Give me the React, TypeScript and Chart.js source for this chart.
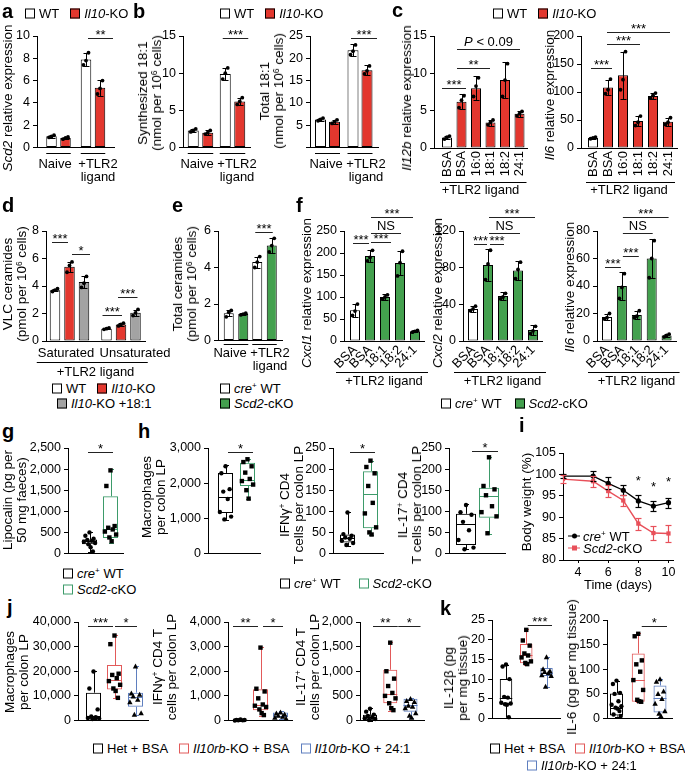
import React, { useEffect, useRef } from 'react';
import { Chart, registerables } from 'chart.js';

Chart.register(...registerables);

const FONT = "'Liberation Sans', Arial, Helvetica, sans-serif";
Chart.defaults.font.family = FONT;
Chart.defaults.color = '#000';

// ================= DATA =================
const tlrGroups = ['Naive', '+TLR2 ligand'];

// a  Scd2 relative expression
const aWT = [1.0, 7.9];
const aWTsd = [0.12, 0.6];
const aWTpts = [[0.9, 1.0, 1.1], [7.4, 7.8, 8.5]];
const aKO = [0.85, 5.35];
const aKOsd = [0.1, 0.7];
const aKOpts = [[0.75, 0.85, 0.95], [4.8, 5.3, 6.0]];

// b  synthesized / total 18:1
const b1WT = [2.3, 9.9];
const b1WTsd = [0.25, 0.85];
const b1WTpts = [[2.1, 2.3, 2.5], [9.2, 10.0, 10.7]];
const b1KO = [2.0, 6.2];
const b1KOsd = [0.3, 0.5];
const b1KOpts = [[1.8, 2.0, 2.3], [5.8, 6.2, 6.7]];
const b2WT = [6.3, 21.8];
const b2WTsd = [0.3, 1.3];
const b2WTpts = [[6.0, 6.3, 6.6], [20.8, 21.6, 23.0]];
const b2KO = [5.8, 17.3];
const b2KOsd = [0.45, 1.1];
const b2KOpts = [[5.4, 5.8, 6.2], [16.5, 17.2, 18.3]];

// c  Il12b / Il6
const cLabels = ['BSA', 'BSA', '16:0', '18:1', '18:2', '24:1'];
const c1Vals = [1.4, 6.2, 8.0, 3.4, 9.1, 4.6];
const c1Sd = [0.25, 1.0, 1.6, 0.4, 2.4, 0.4];
const c1Pts = [[1.2, 1.45, 1.6], [5.4, 6.4, 7.0], [6.9, 8.3, 9.4], [3.1, 3.45, 3.75], [6.9, 9.1, 11.3], [4.3, 4.6, 4.9]];
const c2Vals = [18, 108, 130, 48, 93, 47];
const c2Sd = [1.5, 14, 42, 9, 5, 7];
const c2Pts = [[16.5, 18, 19.5], [97, 104, 123], [104, 122, 172], [40, 46, 57], [89, 94, 98], [42, 46, 54]];

// d  VLC ceramides
const dGroups = ['Saturated', 'Unsaturated'];
const dWT = [3.7, 0.9];
const dWTsd = [0.08, 0.06];
const dWTpts = [[3.6, 3.7, 3.8], [0.85, 0.9, 0.95]];
const dKO = [5.4, 1.2];
const dKOsd = [0.35, 0.08];
const dKOpts = [[5.0, 5.5, 5.75], [1.1, 1.2, 1.3]];
const dOA = [4.3, 2.05];
const dOAsd = [0.45, 0.22];
const dOApts = [[3.9, 4.2, 4.7], [1.85, 2.05, 2.3]];

// e  total ceramides
const eWT = [1.5, 4.3];
const eWTsd = [0.18, 0.3];
const eWTpts = [[1.3, 1.55, 1.65], [4.0, 4.3, 4.6]];
const eKO = [1.45, 5.2];
const eKOsd = [0.08, 0.4];
const eKOpts = [[1.4, 1.45, 1.5], [4.85, 5.2, 5.6]];

// f  Cxcl1 / Cxcl2 / Il6
const fLabels = ['BSA', 'BSA', '18:1', '18:2', '24:1'];
const f1Vals = [70, 193, 100, 177, 22];
const f1Sd = [15, 14, 6, 28, 2];
const f1Pts = [[58, 68, 84], [182, 190, 206], [95, 100, 105], [148, 178, 204], [20, 22, 24]];
const f2Vals = [35, 83, 49, 77, 12];
const f2Sd = [3, 17, 4, 10, 5];
const f2Pts = [[33, 35, 38], [67, 84, 99], [46, 48, 52], [68, 78, 86], [8, 11, 16]];
const f3Vals = [17.5, 40, 19, 60, 4];
const f3Sd = [2.5, 10, 3, 14, 1];
const f3Pts = [[16, 17, 20], [31, 39, 49], [17, 18, 22], [46, 60, 73], [3, 4, 5]];

// g, h  box plots: [min, q1, median, q3, max]
const ghLabels = ['cre+ WT', 'Scd2-cKO'];
const gBoxes = [[30, 220, 290, 334, 507], [257, 370, 584, 1356, 2000]];
const gPts = [[500, 420, 350, 320, 300, 280, 250, 220, 150, 50], [1970, 1600, 650, 610, 570, 520, 450, 380, 290]];
const h1Boxes = [[960, 1150, 1600, 2290, 2520], [1550, 1920, 2100, 2580, 2700]];
const h1Pts = [[2480, 2280, 1830, 1760, 1550, 1180, 1050, 970], [2680, 2600, 2480, 2300, 2120, 2060, 1960, 1800, 1560]];
const h2Boxes = [[18, 26, 37, 45, 98], [43, 60, 141, 195, 220]];
const h2Pts = [[97, 46, 42, 38, 35, 30, 25, 20], [220, 205, 190, 160, 120, 95, 62, 50, 45]];
const h3Boxes = [[10, 20, 71, 94, 117], [46, 85, 136, 156, 229]];
const h3Pts = [[115, 98, 92, 75, 55, 32, 14, 10], [228, 160, 152, 138, 112, 98, 88, 48]];

// i  body weight
const iDays = [3, 5, 6, 7, 8, 9, 10];
const iWT = [99.6, 99.6, 97.9, 96.3, 93.8, 92.6, 93.4];
const iWTsd = [0.5, 1.1, 1.4, 1.2, 1.4, 1.1, 1.2];
const iKO = [98.9, 98.4, 96.1, 93.9, 88.5, 86.3, 86.2];
const iKOsd = [0.9, 1.3, 1.4, 1.3, 1.4, 1.6, 2.0];
const iTicks = [4, 6, 8, 10];
const iStarDays = [8, 9, 10];
const iStarY = [97.6, 96.2, 97.4];

// j, k  box plots: [min, q1, median, q3, max]
const jkLabels = ['Het + BSA', 'Il10rb-KO + BSA', 'Il10rb-KO + 24:1'];
const j1Boxes = [[500, 700, 1700, 11300, 19900], [9000, 12600, 16500, 22500, 34700], [2300, 5600, 9500, 11300, 22000]];
const j1Pts = [[19900, 13000, 4500, 1600, 1300, 1000, 800, 600], [34500, 31000, 19000, 18500, 17200, 16000, 14500, 13000, 12000, 9200], [22000, 11000, 10500, 9800, 8500, 7500, 3000, 2400]];
const j2Boxes = [[0, 5, 15, 30, 40], [200, 420, 620, 1270, 2980], [60, 130, 200, 320, 380]];
const j2Pts = [[38, 25, 18, 10, 6, 3], [2960, 1290, 1180, 900, 650, 600, 550, 450, 300, 220], [330, 290, 250, 200, 160, 120, 80]];
const j3Boxes = [[0, 13, 70, 115, 260], [200, 350, 540, 1030, 1600], [50, 180, 310, 440, 450]];
const j3Pts = [[240, 180, 120, 90, 60, 45, 30, 10], [1580, 1000, 850, 700, 560, 500, 450, 350, 250, 210], [440, 400, 380, 300, 280, 250, 150, 100, 60]];
const k1Boxes = [[0.2, 3.6, 5.3, 10.0, 13.7], [13.7, 14.0, 16.2, 18.9, 22.7], [8.0, 10.8, 11.6, 12.8, 15.6]];
const k1Pts = [[13.7, 13.2, 10, 5.5, 5.3, 4.0, 3.8, 3.6, 3.5, 0.3], [22.5, 19.8, 18.5, 16.5, 16.0, 15.5, 14.5, 14.1, 13.8], [15.6, 12.5, 12.0, 11.8, 11.5, 11.0, 10.8, 8.1]];
const k2Boxes = [[4, 6, 22, 51, 77], [34, 34, 78, 132, 174], [3, 12, 41, 67, 81]];
const k2Pts = [[77, 70, 52, 50, 35, 28, 25, 22, 20, 15, 8, 5], [172, 167, 118, 110, 95, 78, 58, 38, 35, 34], [80, 75, 55, 50, 40, 30, 15, 10, 5]];

// significance annotations (bar refs [dataset, index], height in data units)
const sigA = [{ a: [0, 1], b: [1, 1], y: 9.82, text: '**', off: [2, 13] }];
const sigB1 = [{ a: [0, 1], b: [1, 1], y: 14.69, text: '***', off: [-2.5, 8.5] }];
const sigB2 = [{ a: [0, 1], b: [1, 1], y: 24.5, text: '***', off: [-2, 10] }];
const sigC1 = [
  { a: [0, 0], b: [0, 1], y: 8.04, text: '***', off: [-5, 4.5] },
  { a: [0, 1], b: [0, 3], y: 10.71, text: '**', off: [-4.5, -0.5] },
  { a: [0, 1], b: [0, 5], y: 13.26, text: 'P < 0.09', off: [-4.5, 0.5] },
];
const sigC2 = [
  { a: [0, 0], b: [0, 1], y: 142.9, text: '***', off: [-2, 4] },
  { a: [0, 1], b: [0, 3], y: 185.7, text: '***', off: [-1, 2] },
  { a: [0, 1], b: [0, 5], y: 207.1, text: '***', off: [-1, 2] },
];
const sigD = [
  { a: [0, 0], b: [1, 0], y: 7.2, text: '***', off: [-3, -1.5] },
  { a: [1, 0], b: [2, 0], y: 6.33, text: '*', off: [2.5, 6] },
  { a: [0, 1], b: [1, 1], y: 1.89, text: '***', off: [-4, 1] },
  { a: [1, 1], b: [2, 1], y: 3.2, text: '***', off: [-3, 2] },
];
const sigE = [{ a: [0, 1], b: [1, 1], y: 5.95, text: '***', off: [-2, 1] }];
const sigF1 = [
  { a: [0, 0], b: [0, 1], y: 222, text: '***', off: [-2, -1] },
  { a: [0, 1], b: [0, 2], y: 225.7, text: '***', off: [1, 6] },
  { a: [0, 1], b: [0, 3], y: 245.5, text: 'NS', off: [1, 1] },
  { a: [0, 1], b: [0, 4], y: 281.8, text: '***', off: [1, -2] },
];
const sigF2 = [
  { a: [0, 0], b: [0, 1], y: 105.8, text: '***', off: [1, -1] },
  { a: [0, 1], b: [0, 2], y: 105.8, text: '***', off: [2, 1] },
  { a: [0, 1], b: [0, 3], y: 117.8, text: 'NS', off: [1, 2] },
  { a: [0, 1], b: [0, 4], y: 135.3, text: '***', off: [1, 2] },
];
const sigF3 = [
  { a: [0, 0], b: [0, 1], y: 53.8, text: '***', off: [-2, -1] },
  { a: [0, 1], b: [0, 2], y: 61.8, text: '***', off: [1, 2] },
  { a: [0, 1], b: [0, 3], y: 78.5, text: 'NS', off: [1, 1] },
  { a: [0, 1], b: [0, 4], y: 90.2, text: '***', off: [1, 2] },
];
const sigG = [{ a: [0, 0], b: [0, 1], y: 2409, text: '*', off: [-1.5, 2.5] }];
const sigH1 = [{ a: [0, 0], b: [0, 1], y: 2891, text: '*', off: [2.5, 5.5] }];
const sigH2 = [{ a: [0, 0], b: [0, 1], y: 240.9, text: '*', off: [2.5, 4.5] }];
const sigH3 = [{ a: [0, 0], b: [0, 1], y: 243.2, text: '*', off: [6, 9] }];
const sigJ1 = [
  { a: [0, 0], b: [0, 1], y: 38450, text: '***', off: [-5.5, -1.5] },
  { a: [0, 1], b: [0, 2], y: 38450, text: '*', off: [0.5, 1.5] },
];
const sigJ2 = [
  { a: [0, 0], b: [0, 1], y: 3845, text: '**', off: [-7.5, -2.5] },
  { a: [0, 1], b: [0, 2], y: 3845, text: '*', off: [2.5, 2.5] },
];
const sigJ3 = [
  { a: [0, 0], b: [0, 1], y: 1922, text: '**', off: [3, 7.5] },
  { a: [0, 1], b: [0, 2], y: 1922, text: '*', off: [8, 10] },
];
const sigK1 = [{ a: [0, 1], b: [0, 2], y: 23.8, text: '***', off: [1.5, 5.5] }];
const sigK2 = [{ a: [0, 1], b: [0, 2], y: 188.3, text: '*', off: [3.5, 7] }];

// ================= STYLE / LAYOUT =================
const RED = '#e3372e';
const GREEN = '#43a04e';
const GRAY = '#a3a3a3';
const WHITE = '#ffffff';
const BOX_GREEN = '#3d9b6a';
const BOX_RED = '#e25a5a';
const BOX_BLUE = '#5f7fbf';
const LRED = '#e8505a';

const TICK = 12.5;
const XL = 13;
const TT = 13.5;
const LEG = 13;
const SIG = 13;
const YW = 52;
const PR = 14;

const GA = { x0: 37, x1: 114, yTop: 36, yBot: 148, pt: 26, xh: 10, c0: 58.5, s: 34.5, w: 10.5, g: 3.5 };
const GB1 = { x0: 183, x1: 250, yTop: 36, yBot: 148, pt: 26, xh: 10, c0: 200.5, s: 32, w: 11, g: 3.5 };
const GB2 = { x0: 310, x1: 378, yTop: 36, yBot: 148, pt: 26, xh: 10, c0: 327.5, s: 32.5, w: 11, g: 3 };
const GC1 = { x0: 434, x1: 527, yTop: 36, yBot: 148, pt: 26, xh: 50, c0: 447, s: 14.5, w: 10 };
const GC2 = { x0: 581, x1: 677, yTop: 36, yBot: 148, pt: 26, xh: 50, c0: 593, s: 15, w: 10 };
const GD = { x0: 46, x1: 145, yTop: 231, yBot: 341, pt: 30, xh: 39, c0: 69.5, s: 51.5, w: 10.5, g: 4 };
const GE = { x0: 218, x1: 282, yTop: 231, yBot: 341, pt: 30, xh: 10, c0: 236, s: 28.5, w: 10, g: 4.5 };
const GF1 = { x0: 344, x1: 424, yTop: 231, yBot: 341, pt: 30, xh: 48, c0: 355, s: 15, w: 10 };
const GF2 = { x0: 463, x1: 542, yTop: 231, yBot: 341, pt: 30, xh: 48, c0: 473, s: 15, w: 10 };
const GF3 = { x0: 597, x1: 676, yTop: 231, yBot: 341, pt: 30, xh: 48, c0: 607, s: 14.9, w: 10 };
const GG = { x0: 68, x1: 123, yTop: 448, yBot: 558, pt: 16, xh: 6, c0: 89.5, s: 21, w: 15 };
const GH1 = { x0: 208, x1: 260, yTop: 448, yBot: 558, pt: 16, xh: 6, c0: 225.5, s: 22, w: 15 };
const GH2 = { x0: 333, x1: 383, yTop: 448, yBot: 558, pt: 16, xh: 6, c0: 347.5, s: 23, w: 15 };
const GH3 = { x0: 449, x1: 505, yTop: 448, yBot: 558, pt: 16, xh: 6, c0: 466, s: 23, w: 20 };
const GI = { x0: 563, x1: 673, yTop: 453, yBot: 560, pt: 12, xh: 33 };
const GJ1 = { x0: 78, x1: 148, yTop: 622, yBot: 725, pt: 14, xh: 6, c0: 93.5, s: 21, w: 15 };
const GJ2 = { x0: 228, x1: 292, yTop: 622, yBot: 725, pt: 14, xh: 6, c0: 240.5, s: 20, w: 15 };
const GJ3 = { x0: 360, x1: 424, yTop: 622, yBot: 725, pt: 14, xh: 6, c0: 370, s: 20.25, w: 14 };
const GK1 = { x0: 492, x1: 560, yTop: 620, yBot: 723, pt: 14, xh: 6, c0: 506, s: 20.25, w: 12.5 };
const GK2 = { x0: 607, x1: 672, yTop: 620, yBot: 723, pt: 14, xh: 6, c0: 616.5, s: 21.75, w: 13 };

const JIT = [0, -0.55, 0.55, -0.3, 0.3, -0.75, 0.75, -0.15, 0.15, 0.45, -0.45, 0.65];
const PT3 = [-2.5, 0, 2.5];

// ================= DRAWING HELPERS =================
const px = (v: number) => Math.round(v) + 0.5;

function seg(ctx: any, x1: number, y1: number, x2: number, y2: number) {
  ctx.beginPath();
  ctx.moveTo(x1, y1);
  ctx.lineTo(x2, y2);
  ctx.stroke();
}

function marker(ctx: any, shape: string, x: number, y: number) {
  ctx.beginPath();
  if (shape === 'square') ctx.rect(x - 2.2, y - 2.2, 4.4, 4.4);
  else if (shape === 'triangle') {
    ctx.moveTo(x, y - 2.9);
    ctx.lineTo(x + 2.7, y + 2.1);
    ctx.lineTo(x - 2.7, y + 2.1);
    ctx.closePath();
  } else ctx.arc(x, y, 2.2, 0, Math.PI * 2);
  ctx.fill();
}

function sigText(ctx: any, text: string, cx: number, yb: number) {
  const parts = text.startsWith('P ')
    ? [{ t: 'P', it: true }, { t: text.slice(1), it: false }]
    : [{ t: text, it: false }];
  const fnt = (it: boolean) => `${it ? 'italic ' : ''}${SIG}px ${FONT}`;
  let total = 0;
  parts.forEach((p) => { ctx.font = fnt(p.it); total += ctx.measureText(p.t).width; });
  let x = cx - total / 2;
  ctx.textAlign = 'left';
  ctx.textBaseline = 'alphabetic';
  parts.forEach((p) => { ctx.font = fnt(p.it); ctx.fillText(p.t, x, yb); x += ctx.measureText(p.t).width; });
}

function extrasPlugin(spec: any) {
  return {
    id: 'extras',
    afterDatasetsDraw(chart: any) {
      const ctx = chart.ctx;
      const ys = chart.scales.y;
      const xs = chart.scales.x;
      const area = chart.chartArea;
      const el = (d: number, i: number) => chart.getDatasetMeta(d).data[i];
      const Y = (v: number) => ys.getPixelForValue(v);
      const nd = chart.data.datasets.length;
      const n = chart.data.labels ? chart.data.labels.length : 0;
      ctx.save();
      ctx.lineWidth = 1;
      ctx.strokeStyle = '#000';
      ctx.fillStyle = '#000';

      if (spec.bars) {
        spec.bars.forEach((b: any, d: number) => {
          b.values.forEach((m: number, i: number) => {
            const e = el(d, i);
            const x = px(e.x);
            const yh = px(Y(m + b.sd[i]));
            const yl = px(Y(m - b.sd[i]));
            seg(ctx, x, yl, x, yh);
            seg(ctx, x - 3, yh, x + 3, yh);
            seg(ctx, x - 3, yl, x + 3, yl);
            b.pts[i].forEach((v: number, k: number) => {
              ctx.beginPath();
              ctx.arc(e.x + PT3[k % 3], Y(v), 1.9, 0, Math.PI * 2);
              ctx.fill();
            });
          });
        });
      }

      if (spec.groupLine != null) {
        const yy = px(area.bottom + spec.groupLine);
        for (let i = 0; i < n; i++) {
          const f = el(0, i);
          const l = el(nd - 1, i);
          seg(ctx, f.x - f.width / 2, yy, l.x + l.width / 2, yy);
        }
      }

      if (spec.spanLine) {
        const yy = px(area.bottom + spec.spanLine.dy);
        const f = el(0, 0);
        const l = el(nd - 1, n - 1);
        seg(ctx, f.x - f.width / 2 - spec.spanLine.ext[0], yy, l.x + l.width / 2 + spec.spanLine.ext[1], yy);
      }

      if (spec.box) {
        const { stats, colors, pts, shapes } = spec.box;
        stats.forEach((s: number[], i: number) => {
          const e = el(0, i);
          const x = px(e.x);
          const hw = e.width / 2;
          ctx.strokeStyle = colors[i];
          seg(ctx, x, Y(s[3]), x, Y(s[4]));
          seg(ctx, x, Y(s[1]), x, Y(s[0]));
          seg(ctx, x - 2.5, px(Y(s[4])), x + 2.5, px(Y(s[4])));
          seg(ctx, x - 2.5, px(Y(s[0])), x + 2.5, px(Y(s[0])));
          seg(ctx, e.x - hw, px(Y(s[2])), e.x + hw, px(Y(s[2])));
          ctx.fillStyle = '#000';
          pts[i].forEach((v: number, k: number) => marker(ctx, shapes[i], e.x + JIT[k % JIT.length] * hw, Y(v)));
        });
        ctx.strokeStyle = '#000';
      }

      if (spec.lineErr) {
        spec.lineErr.forEach((sd: number[], d: number) => {
          const meta = chart.getDatasetMeta(d);
          ctx.strokeStyle = spec.lineColors[d];
          ctx.lineWidth = 1.2;
          meta.data.forEach((p: any, i: number) => {
            const v = chart.data.datasets[d].data[i].y;
            const x = px(p.x);
            const yh = px(Y(v + sd[i]));
            const yl = px(Y(v - sd[i]));
            seg(ctx, x, yl, x, yh);
            seg(ctx, x - 3, yh, x + 3, yh);
            seg(ctx, x - 3, yl, x + 3, yl);
          });
        });
        ctx.lineWidth = 1;
        ctx.strokeStyle = '#000';
      }

      if (spec.marks) {
        ctx.fillStyle = '#000';
        spec.marks.forEach((m: any) => sigText(ctx, m.text, xs.getPixelForValue(m.x), Y(m.y)));
      }

      if (spec.sigs) {
        spec.sigs.forEach((s: any) => {
          const a = el(s.a[0], s.a[1]);
          const b = el(s.b[0], s.b[1]);
          const x1 = a.x + s.off[0];
          const x2 = b.x + s.off[1];
          const yy = px(Y(s.y));
          ctx.strokeStyle = '#222';
          seg(ctx, x1, yy, x2, yy);
          ctx.fillStyle = '#000';
          const stars = /^\*+$/.test(s.text);
          sigText(ctx, s.text, (x1 + x2) / 2, stars ? yy + 0.5 : yy - 3.5);
        });
      }
      ctx.restore();
    },
  };
}

// ================= CHART CONFIG BUILDERS =================
function base(g: any) {
  return {
    responsive: false,
    animation: false,
    events: [],
    layout: { padding: { top: g.pt, right: PR, bottom: 0, left: 0 } },
    plugins: { legend: { display: false }, tooltip: { enabled: false } },
  };
}

function yLin(o: any) {
  return {
    type: 'linear',
    min: o.min,
    max: o.max,
    ticks: {
      stepSize: o.step,
      font: { size: TICK },
      color: '#000',
      padding: 3,
      callback: (v: any) => (o.hideZero && v === 0 ? '' : Number(v).toLocaleString('en-US')),
    },
    grid: { drawOnChartArea: false, drawTicks: true, tickLength: 4, color: '#000', lineWidth: 1 },
    border: { display: true, color: '#000', width: 1 },
    afterFit: (s: any) => { s.width = YW; },
  };
}

function xCat(g: any, n: number, o: any) {
  const U = (g.x1 - g.x0) / g.s;
  const l = (g.c0 - g.x0) / g.s - 0.5;
  const r = U - n - l;
  return {
    type: 'category',
    offset: true,
    grid: { display: false, drawTicks: false },
    border: { display: true, color: '#000', width: 1 },
    ticks: {
      display: !!o.showTicks,
      autoSkip: false,
      font: { size: XL, lineHeight: 1.05 },
      color: '#000',
      padding: o.pad ?? 3,
      minRotation: o.rot ?? 0,
      maxRotation: o.rot ?? 0,
    },
    title: o.title
      ? { display: true, text: o.title, font: { size: XL }, color: '#000', padding: 0 }
      : { display: false },
    afterFit: (s: any) => { s.height = g.xh; },
    afterBuildTicks: (s: any) => { s._startValue -= l; s._valueRange += l + r; },
  };
}

function barChart(g: any, labels: any[], sets: any[], yo: any, spec: any, xo: any = {}) {
  const k = sets.length;
  const cp = k === 1 ? 1 : (k * (g.w + g.g)) / g.s;
  const bp = k === 1 ? g.w / g.s : g.w / (g.w + g.g);
  return () => ({
    type: 'bar',
    data: {
      labels,
      datasets: sets.map((s) => ({
        label: s.label,
        data: s.values,
        backgroundColor: s.color,
        borderColor: '#000',
        borderWidth: 1,
        borderSkipped: false,
        categoryPercentage: cp,
        barPercentage: bp,
      })),
    },
    options: { ...base(g), scales: { x: xCat(g, labels.length, xo), y: yLin(yo) } },
    plugins: [extrasPlugin({ ...spec, bars: sets })],
  });
}

function boxChart(g: any, labels: string[], boxes: number[][], colors: string[], pts: number[][], shapes: string[], yo: any, sigs: any[]) {
  return () => ({
    type: 'bar',
    data: {
      labels,
      datasets: [{
        data: boxes.map((b) => [b[1], b[3]]),
        backgroundColor: 'rgba(255,255,255,0)',
        borderColor: colors,
        borderWidth: 1,
        borderSkipped: false,
        categoryPercentage: 1,
        barPercentage: g.w / g.s,
      }],
    },
    options: { ...base(g), scales: { x: xCat(g, labels.length, { showTicks: false }), y: yLin(yo) } },
    plugins: [extrasPlugin({ box: { stats: boxes, colors, pts, shapes }, sigs })],
  });
}

const wk = (c: string, n: number) => [WHITE, ...Array(n - 1).fill(c)];

const makeA = barChart(GA, tlrGroups, [
  { label: 'WT', values: aWT, sd: aWTsd, pts: aWTpts, color: WHITE },
  { label: 'Il10-KO', values: aKO, sd: aKOsd, pts: aKOpts, color: RED },
], { min: 0, max: 10, step: 2 }, { groupLine: 5, sigs: sigA });

const makeB1 = barChart(GB1, tlrGroups, [
  { label: 'WT', values: b1WT, sd: b1WTsd, pts: b1WTpts, color: WHITE },
  { label: 'Il10-KO', values: b1KO, sd: b1KOsd, pts: b1KOpts, color: RED },
], { min: 0, max: 15, step: 5 }, { groupLine: 5, sigs: sigB1 });

const makeB2 = barChart(GB2, tlrGroups, [
  { label: 'WT', values: b2WT, sd: b2WTsd, pts: b2WTpts, color: WHITE },
  { label: 'Il10-KO', values: b2KO, sd: b2KOsd, pts: b2KOpts, color: RED },
], { min: 0, max: 25, step: 5, hideZero: true }, { groupLine: 5, sigs: sigB2 });

const makeC1 = barChart(GC1, cLabels, [
  { label: 'Il12b', values: c1Vals, sd: c1Sd, pts: c1Pts, color: wk(RED, 6) },
], { min: 0, max: 15, step: 5 }, { spanLine: { dy: 34, ext: [2, 2] }, sigs: sigC1 },
  { showTicks: true, rot: 90, pad: 3, title: '+TLR2 ligand' });

const makeC2 = barChart(GC2, cLabels, [
  { label: 'Il6', values: c2Vals, sd: c2Sd, pts: c2Pts, color: wk(RED, 6) },
], { min: 0, max: 200, step: 50 }, { spanLine: { dy: 34, ext: [2, 2] }, sigs: sigC2 },
  { showTicks: true, rot: 90, pad: 3, title: '+TLR2 ligand' });

const makeD = barChart(GD, dGroups, [
  { label: 'WT', values: dWT, sd: dWTsd, pts: dWTpts, color: WHITE },
  { label: 'Il10-KO', values: dKO, sd: dKOsd, pts: dKOpts, color: RED },
  { label: 'Il10-KO +18:1', values: dOA, sd: dOAsd, pts: dOApts, color: GRAY },
], { min: 0, max: 8, step: 2 }, { spanLine: { dy: 21, ext: [13, 7] }, sigs: sigD }, { title: '+TLR2 ligand' });

const makeE = barChart(GE, tlrGroups, [
  { label: 'cre+ WT', values: eWT, sd: eWTsd, pts: eWTpts, color: WHITE },
  { label: 'Scd2-cKO', values: eKO, sd: eKOsd, pts: eKOpts, color: GREEN },
], { min: 0, max: 6, step: 2 }, { groupLine: 3, sigs: sigE });

const fX = { showTicks: true, rot: 45, pad: 2, title: '+TLR2 ligand' };
const makeF1 = barChart(GF1, fLabels, [
  { label: 'Cxcl1', values: f1Vals, sd: f1Sd, pts: f1Pts, color: wk(GREEN, 5) },
], { min: 0, max: 250, step: 50 }, { spanLine: { dy: 31, ext: [14, 8] }, sigs: sigF1 }, fX);
const makeF2 = barChart(GF2, fLabels, [
  { label: 'Cxcl2', values: f2Vals, sd: f2Sd, pts: f2Pts, color: wk(GREEN, 5) },
], { min: 0, max: 120, step: 40 }, { spanLine: { dy: 31, ext: [14, 8] }, sigs: sigF2 }, fX);
const makeF3 = barChart(GF3, fLabels, [
  { label: 'Il6', values: f3Vals, sd: f3Sd, pts: f3Pts, color: wk(GREEN, 5) },
], { min: 0, max: 80, step: 20 }, { spanLine: { dy: 31, ext: [14, 8] }, sigs: sigF3 }, fX);

const ghCol = ['#000', BOX_GREEN];
const ghShp = ['circle', 'square'];
const makeG = boxChart(GG, ghLabels, gBoxes, ghCol, gPts, ghShp, { min: 0, max: 2500, step: 500 }, sigG);
const makeH1 = boxChart(GH1, ghLabels, h1Boxes, ghCol, h1Pts, ghShp, { min: 0, max: 3000, step: 1000 }, sigH1);
const makeH2 = boxChart(GH2, ghLabels, h2Boxes, ghCol, h2Pts, ghShp, { min: 0, max: 250, step: 50 }, sigH2);
const makeH3 = boxChart(GH3, ghLabels, h3Boxes, ghCol, h3Pts, ghShp, { min: 0, max: 250, step: 50 }, sigH3);

const jkCol = ['#000', BOX_RED, BOX_BLUE];
const jkShp = ['circle', 'square', 'triangle'];
const makeJ1 = boxChart(GJ1, jkLabels, j1Boxes, jkCol, j1Pts, jkShp, { min: 0, max: 40000, step: 10000 }, sigJ1);
const makeJ2 = boxChart(GJ2, jkLabels, j2Boxes, jkCol, j2Pts, jkShp, { min: 0, max: 4000, step: 1000 }, sigJ2);
const makeJ3 = boxChart(GJ3, jkLabels, j3Boxes, jkCol, j3Pts, jkShp, { min: 0, max: 2000, step: 500 }, sigJ3);
const makeK1 = boxChart(GK1, jkLabels, k1Boxes, jkCol, k1Pts, jkShp, { min: 0, max: 25, step: 5 }, sigK1);
const makeK2 = boxChart(GK2, jkLabels, k2Boxes, jkCol, k2Pts, jkShp, { min: 0, max: 200, step: 50 }, sigK2);

const makeI = () => ({
  type: 'line',
  data: {
    datasets: [
      {
        label: 'cre+ WT',
        data: iDays.map((d, j) => ({ x: d, y: iWT[j] })),
        borderColor: '#000',
        backgroundColor: '#000',
        borderWidth: 1.4,
        pointRadius: 2.6,
        pointBorderWidth: 0,
        pointStyle: 'circle',
      },
      {
        label: 'Scd2-cKO',
        data: iDays.map((d, j) => ({ x: d, y: iKO[j] })),
        borderColor: LRED,
        backgroundColor: LRED,
        borderWidth: 1.4,
        pointRadius: 3,
        pointBorderWidth: 0,
        pointStyle: 'rect',
      },
    ],
  },
  options: {
    ...base(GI),
    scales: {
      x: {
        type: 'linear',
        min: 3,
        max: 10.3,
        afterBuildTicks: (s: any) => { s.ticks = iTicks.map((v) => ({ value: v })); },
        ticks: { font: { size: TICK }, color: '#000', padding: 2 },
        grid: { drawOnChartArea: false, drawTicks: true, tickLength: 3, color: '#000' },
        border: { display: true, color: '#000', width: 1 },
        title: { display: true, text: 'Time (days)', font: { size: XL }, color: '#000', padding: 0 },
        afterFit: (s: any) => { s.height = GI.xh; },
      },
      y: yLin({ min: 80, max: 105, step: 5 }),
    },
  },
  plugins: [extrasPlugin({
    lineErr: [iWTsd, iKOsd],
    lineColors: ['#000', LRED],
    marks: iStarDays.map((d, k) => ({ x: d, y: iStarY[k], text: '*' })),
  })],
});

// ================= COMPONENTS =================
function ChartBox({ geom, make }: { geom: any; make: () => any }) {
  const ref = useRef<HTMLCanvasElement>(null);
  const width = YW + (geom.x1 - geom.x0) + PR;
  const height = geom.pt + (geom.yBot - geom.yTop) + geom.xh;
  useEffect(() => {
    const ch = new Chart(ref.current as any, make() as any);
    return () => ch.destroy();
  }, []);
  return (
    <canvas
      ref={ref}
      width={width}
      height={height}
      style={{ position: 'absolute', left: geom.x0 - YW, top: geom.yTop - geom.pt, width, height }}
    />
  );
}

const Sup = ({ children }: any) => (
  <sup style={{ fontSize: '0.62em', lineHeight: 0, verticalAlign: '0.5em' }}>{children}</sup>
);

function Letter({ x, base, ch }: any) {
  return (
    <div style={{ position: 'absolute', left: x, top: base - 17, fontSize: 20, fontWeight: 'bold', lineHeight: '20px' }}>{ch}</div>
  );
}

function YTitle({ cx, cy, lines }: any) {
  return (
    <div
      style={{
        position: 'absolute', left: cx, top: cy, transform: 'translate(-50%, -50%) rotate(-90deg)',
        whiteSpace: 'nowrap', textAlign: 'center', fontSize: TT, lineHeight: '14px',
      }}
    >
      {lines.map((l: any, k: number) => <div key={k}>{l}</div>)}
    </div>
  );
}

function CText({ x, y, lines }: any) {
  return (
    <div
      style={{
        position: 'absolute', left: x, top: y, transform: 'translate(-50%, -50%)',
        textAlign: 'center', whiteSpace: 'nowrap', fontSize: XL, lineHeight: '13px',
      }}
    >
      {lines.map((l: any, k: number) => <div key={k}>{l}</div>)}
    </div>
  );
}

function Legend({ x, y, items, gap = 11 }: any) {
  return (
    <div
      style={{
        position: 'absolute', left: x, top: y, transform: 'translateY(-50%)', display: 'flex',
        alignItems: 'center', whiteSpace: 'nowrap', fontSize: LEG, lineHeight: '15px',
      }}
    >
      {items.map((it: any, k: number) => (
        <span key={k} style={{ display: 'inline-flex', alignItems: 'center', marginLeft: k ? gap : 0 }}>
          <span
            style={{
              display: 'inline-block', width: 8, height: 8, border: `1px solid ${it.stroke || '#000'}`,
              background: it.fill || '#fff', marginRight: 4,
            }}
          />
          <span>{it.label}</span>
        </span>
      ))}
    </div>
  );
}

function LineKey({ x, y, color, square, label }: any) {
  return (
    <div
      style={{
        position: 'absolute', left: x, top: y, transform: 'translateY(-50%)', display: 'flex',
        alignItems: 'center', whiteSpace: 'nowrap', fontSize: LEG, lineHeight: '15px',
      }}
    >
      <span style={{ position: 'relative', display: 'inline-block', width: 12, height: 8, marginRight: 3 }}>
        <span style={{ position: 'absolute', left: 0, right: 0, top: 3.3, height: 1.4, background: color }} />
        <span
          style={{
            position: 'absolute', left: 3.5, top: 1.5, width: 5, height: 5, background: color,
            borderRadius: square ? 0 : '50%',
          }}
        />
      </span>
      <span>{label}</span>
    </div>
  );
}

const il10 = <><i>Il10</i>-KO</>;
const creWT = <><i>cre</i><Sup>+</Sup> WT</>;
const scd2 = <><i>Scd2</i>-cKO</>;
const il10rbBSA = <><i>Il10rb</i>-KO + BSA</>;
const il10rb241 = <><i>Il10rb</i>-KO + 24:1</>;
const tNmol = <>(nmol per 10<Sup>6</Sup> cells)</>;
const tPmol = <>(pmol per 10<Sup>6</Sup> cells)</>;
const tlrLines = ['+TLR2', 'ligand'];

export default function App() {
  return (
    <div
      style={{
        position: 'absolute', left: 0, top: 0, width: 685, height: 774, background: '#fff',
        overflow: 'hidden', fontFamily: FONT, color: '#000',
      }}
    >
      <ChartBox geom={GA} make={makeA} />
      <ChartBox geom={GB1} make={makeB1} />
      <ChartBox geom={GB2} make={makeB2} />
      <ChartBox geom={GC1} make={makeC1} />
      <ChartBox geom={GC2} make={makeC2} />
      <ChartBox geom={GD} make={makeD} />
      <ChartBox geom={GE} make={makeE} />
      <ChartBox geom={GF1} make={makeF1} />
      <ChartBox geom={GF2} make={makeF2} />
      <ChartBox geom={GF3} make={makeF3} />
      <ChartBox geom={GG} make={makeG} />
      <ChartBox geom={GH1} make={makeH1} />
      <ChartBox geom={GH2} make={makeH2} />
      <ChartBox geom={GH3} make={makeH3} />
      <ChartBox geom={GI} make={makeI} />
      <ChartBox geom={GJ1} make={makeJ1} />
      <ChartBox geom={GJ2} make={makeJ2} />
      <ChartBox geom={GJ3} make={makeJ3} />
      <ChartBox geom={GK1} make={makeK1} />
      <ChartBox geom={GK2} make={makeK2} />

      {/* panel letters */}
      <Letter x={2} base={18} ch="a" />
      <Letter x={133} base={18} ch="b" />
      <Letter x={392} base={17} ch="c" />
      <Letter x={2} base={212} ch="d" />
      <Letter x={172} base={212} ch="e" />
      <Letter x={296} base={212} ch="f" />
      <Letter x={2} base={438} ch="g" />
      <Letter x={138} base={438} ch="h" />
      <Letter x={519} base={432} ch="i" />
      <Letter x={7} base={614} ch="j" />
      <Letter x={440} base={615} ch="k" />

      {/* legends */}
      <Legend x={25} y={13} items={[{ label: 'WT' }, { label: il10, fill: RED }]} />
      <Legend x={220} y={13} items={[{ label: 'WT' }, { label: il10, fill: RED }]} />
      <Legend x={493} y={13} items={[{ label: 'WT' }, { label: il10, fill: RED }]} />
      <Legend x={52} y={388} items={[{ label: 'WT' }, { label: il10, fill: RED }]} />
      <Legend x={57} y={403} items={[{ label: <>{il10} +18:1</>, fill: GRAY }]} />
      <Legend x={220} y={388} items={[{ label: creWT }]} />
      <Legend x={220} y={403} items={[{ label: scd2, fill: GREEN }]} />
      <Legend x={441} y={403} items={[{ label: creWT }, { label: scd2, fill: GREEN }]} gap={13} />
      <Legend x={63} y={573} items={[{ label: creWT }]} />
      <Legend x={63} y={589} items={[{ label: scd2, stroke: BOX_GREEN }]} />
      <Legend x={280} y={583} items={[{ label: creWT }, { label: scd2, stroke: BOX_GREEN }]} gap={18} />
      <Legend x={93} y={748} items={[{ label: 'Het + BSA' }, { label: il10rbBSA, stroke: BOX_RED }, { label: il10rb241, stroke: BOX_BLUE }]} />
      <Legend x={490} y={748} items={[{ label: 'Het + BSA' }, { label: il10rbBSA, stroke: BOX_RED }]} gap={10} />
      <Legend x={527} y={765} items={[{ label: il10rb241, stroke: BOX_BLUE }]} />
      <LineKey x={568} y={536} color="#000" label={creWT} />
      <LineKey x={568} y={548} color={LRED} square label={scd2} />

      {/* group labels under x axes */}
      <CText x={55} y={163} lines={['Naive']} />
      <CText x={98} y={169.5} lines={tlrLines} />
      <CText x={197} y={163} lines={['Naive']} />
      <CText x={237} y={169.5} lines={tlrLines} />
      <CText x={326} y={163} lines={['Naive']} />
      <CText x={366} y={169.5} lines={tlrLines} />
      <CText x={66} y={352} lines={['Saturated']} />
      <CText x={135} y={352} lines={['Unsaturated']} />
      <CText x={230} y={352} lines={['Naive']} />
      <CText x={270} y={358.5} lines={tlrLines} />

      {/* axis titles */}
      <YTitle cx={7.5} cy={98} lines={[<><i>Scd2</i> relative expression</>]} />
      <YTitle cx={150} cy={93} lines={['Synthesized 18:1', tNmol]} />
      <YTitle cx={271.5} cy={91} lines={['Total 18:1', tNmol]} />
      <YTitle cx={407} cy={98} lines={[<><i>Il12b</i> relative expression</>]} />
      <YTitle cx={550} cy={95} lines={[<><i>Il6</i> relative expression</>]} />
      <YTitle cx={15} cy={284} lines={['VLC ceramides', tPmol]} />
      <YTitle cx={185} cy={284} lines={['Total ceramides', tPmol]} />
      <YTitle cx={307} cy={293} lines={[<><i>Cxcl1</i> relative expression</>]} />
      <YTitle cx={438} cy={293} lines={[<><i>Cxcl2</i> relative expression</>]} />
      <YTitle cx={570} cy={287} lines={[<><i>Il6</i> relative expression</>]} />
      <YTitle cx={15} cy={500} lines={['Lipocalin (pg per', '50 mg faeces)']} />
      <YTitle cx={153.5} cy={497} lines={['Macrophages', 'per colon LP']} />
      <YTitle cx={292} cy={505} lines={[<>IFNγ<Sup>+</Sup> CD4</>, 'T cells per colon LP']} />
      <YTitle cx={410} cy={505} lines={[<>IL-17<Sup>+</Sup> CD4</>, 'T cells per colon LP']} />
      <YTitle cx={527} cy={502} lines={['Body weight (%)']} />
      <YTitle cx={16.5} cy={672} lines={['Macrophages', 'per colon LP']} />
      <YTitle cx={164.5} cy={667} lines={[<>IFNγ<Sup>+</Sup> CD4 T</>, 'cells per colon LP']} />
      <YTitle cx={308} cy={667} lines={[<>IL-17<Sup>+</Sup> CD4 T</>, 'cells per colon LP']} />
      <YTitle cx={455.5} cy={678} lines={['IL-12β (pg', 'per mg tissue)']} />
      <YTitle cx={572} cy={667} lines={['IL-6 (pg per mg tissue)']} />
    </div>
  );
}
